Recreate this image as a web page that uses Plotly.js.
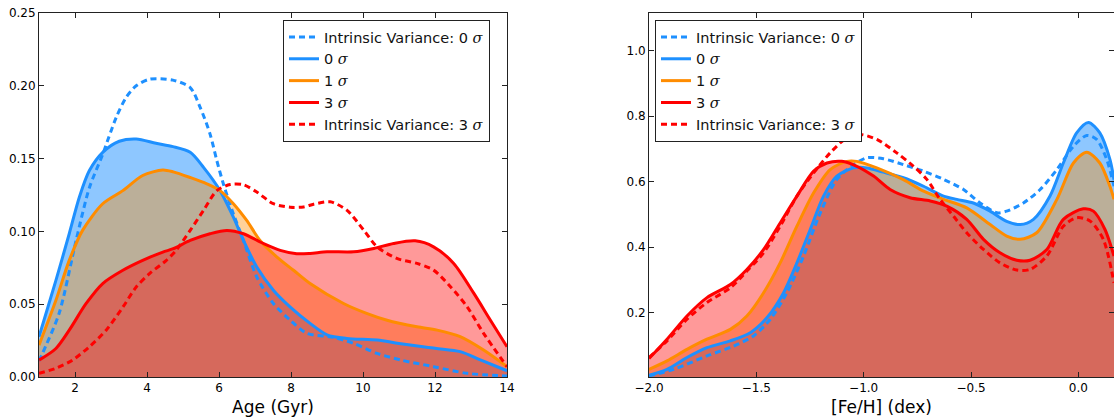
<!DOCTYPE html>
<html>
<head>
<meta charset="utf-8">
<script src="https://cdn.plot.ly/plotly-3.0.1.min.js"></script>
<style>html,body{margin:0;padding:0;background:#fff;}#chart{width:1114px;height:419px;}</style>
</head>
<body>
<div id="chart"></div>
<script>
// ---------- Left panel: Age (Gyr) ----------
const ageBlueX = [1, 1.47, 1.84, 2.12, 2.40, 2.77, 3.23, 3.70, 4.25, 4.72, 5.20, 5.57, 6.03, 6.40, 6.68, 7.05, 7.51, 7.98, 8.53, 9, 9.55, 10.4, 11, 12, 12.7, 13.26, 14];
const ageBlueY = [0.0276, 0.0664, 0.0984, 0.1235, 0.1418, 0.1543, 0.1619, 0.1635, 0.1605, 0.1582, 0.1543, 0.144, 0.128, 0.1098, 0.0938, 0.0755, 0.0596, 0.048, 0.0368, 0.029, 0.0265, 0.0254, 0.023, 0.0197, 0.0174, 0.0117, 0.0043];

const ageOrangeX = [1, 1.47, 1.84, 2.21, 2.77, 3.33, 3.88, 4.44, 4.73, 5.20, 5.66, 6.03, 6.40, 6.77, 7.14, 7.61, 8.07, 8.53, 9.46, 10.1, 10.67, 11.5, 12.06, 12.7, 13.35, 14];
const ageOrangeY = [0.0219, 0.0527, 0.0801, 0.1007, 0.119, 0.128, 0.1384, 0.1422, 0.1409, 0.137, 0.1327, 0.128, 0.119, 0.1075, 0.0938, 0.0824, 0.0733, 0.0642, 0.0505, 0.0437, 0.039, 0.0345, 0.0322, 0.0277, 0.0185, 0.0071];

const ageRedX = [1, 1.47, 1.84, 2.31, 2.77, 3.33, 3.88, 4.44, 4.73, 5.20, 5.75, 6.22, 6.68, 7.24, 7.70, 8.16, 8.53, 9, 9.74, 10.3, 10.85, 11.45, 11.96, 12.52, 13.08, 13.54, 14];
const ageRedY = [0.0116, 0.0196, 0.0322, 0.0505, 0.0642, 0.0733, 0.0801, 0.0858, 0.0881, 0.0938, 0.0984, 0.1007, 0.0984, 0.0916, 0.087, 0.0847, 0.0849, 0.086, 0.086, 0.0883, 0.0917, 0.0935, 0.0894, 0.078, 0.0574, 0.039, 0.0208];

const ageIV0X = [1, 1.10, 1.56, 2.03, 2.40, 2.77, 3.14, 3.42, 3.70, 4.07, 4.72, 5.20, 5.48, 5.75, 5.94, 6.12, 6.40, 6.68, 7.05, 7.51, 7.98, 8.44, 9.18, 9.74, 10.39, 11.04, 11.96, 12.9, 14];
const ageIV0Y = [0.011, 0.0164, 0.0438, 0.0938, 0.130, 0.153, 0.178, 0.192, 0.200, 0.2045, 0.2039, 0.1988, 0.185, 0.167, 0.1486, 0.1327, 0.112, 0.0938, 0.0687, 0.0505, 0.039, 0.030, 0.0272, 0.0231, 0.0162, 0.0117, 0.0071, 0.0025, 0.0007];

const ageIV3X = [1, 1.47, 1.93, 2.4, 2.86, 3.33, 3.70, 4.07, 4.53, 4.81, 5.20, 5.57, 5.94, 6.31, 6.68, 7.05, 7.51, 7.98, 8.35, 8.63, 9.09, 9.55, 10.02, 10.39, 10.94, 11.5, 11.96, 12.43, 12.89, 13.35, 14];
const ageIV3Y = [0.0025, 0.006, 0.0116, 0.0208, 0.032, 0.048, 0.0618, 0.071, 0.080, 0.087, 0.1007, 0.1144, 0.128, 0.1322, 0.132, 0.127, 0.119, 0.1166, 0.1168, 0.1187, 0.1203, 0.1146, 0.1009, 0.0894, 0.0814, 0.078, 0.0734, 0.062, 0.0483, 0.030, 0.0071];

// ---------- Right panel: [Fe/H] (dex) ----------
const fehBlueX = [-2.0, -1.916, -1.823, -1.73, -1.621, -1.528, -1.45, -1.373, -1.311, -1.249, -1.187, -1.125, -1.047, -0.985, -0.908, -0.815, -0.721, -0.628, -0.566, -0.489, -0.411, -0.334, -0.271, -0.209, -0.132, -0.07, -0.008, 0.047, 0.1, 0.147, 0.166];
const fehBlueY = [0.009, 0.027, 0.063, 0.093, 0.114, 0.139, 0.185, 0.261, 0.352, 0.454, 0.556, 0.617, 0.642, 0.642, 0.629, 0.612, 0.586, 0.556, 0.546, 0.535, 0.510, 0.479, 0.469, 0.485, 0.556, 0.657, 0.749, 0.781, 0.749, 0.668, 0.606];

const fehOrangeX = [-2.0, -1.916, -1.823, -1.73, -1.621, -1.544, -1.466, -1.389, -1.311, -1.233, -1.156, -1.078, -1.032, -0.939, -0.815, -0.721, -0.628, -0.52, -0.411, -0.334, -0.271, -0.194, -0.1, -0.023, 0.039, 0.1, 0.147, 0.166];
const fehOrangeY = [0.027, 0.053, 0.088, 0.119, 0.149, 0.190, 0.261, 0.352, 0.464, 0.566, 0.637, 0.662, 0.662, 0.642, 0.606, 0.571, 0.546, 0.520, 0.469, 0.434, 0.424, 0.444, 0.546, 0.657, 0.690, 0.657, 0.586, 0.546];

const fehRedX = [-2.0, -1.916, -1.823, -1.73, -1.621, -1.544, -1.466, -1.389, -1.311, -1.233, -1.171, -1.102, -1.032, -0.954, -0.877, -0.784, -0.69, -0.613, -0.52, -0.442, -0.365, -0.287, -0.225, -0.147, -0.07, 0.023, 0.07, 0.124, 0.166];
const fehRedY = [0.060, 0.119, 0.190, 0.246, 0.286, 0.332, 0.393, 0.474, 0.556, 0.632, 0.657, 0.662, 0.647, 0.617, 0.576, 0.551, 0.541, 0.525, 0.485, 0.424, 0.383, 0.360, 0.360, 0.393, 0.485, 0.517, 0.510, 0.454, 0.373];

const fehIV0X = [-2.0, -1.885, -1.73, -1.606, -1.513, -1.435, -1.358, -1.28, -1.202, -1.125, -1.047, -0.985, -0.908, -0.815, -0.721, -0.628, -0.535, -0.458, -0.38, -0.334, -0.256, -0.178, -0.1, -0.023, 0.039, 0.085, 0.132, 0.166];
const fehIV0Y = [0.007, 0.027, 0.068, 0.098, 0.129, 0.180, 0.261, 0.373, 0.505, 0.607, 0.652, 0.673, 0.670, 0.652, 0.632, 0.607, 0.576, 0.535, 0.505, 0.510, 0.535, 0.576, 0.637, 0.708, 0.741, 0.729, 0.668, 0.586];

const fehIV3X = [-2.0, -1.916, -1.823, -1.73, -1.621, -1.544, -1.466, -1.389, -1.311, -1.233, -1.156, -1.078, -1.016, -0.939, -0.846, -0.768, -0.706, -0.644, -0.582, -0.52, -0.442, -0.365, -0.287, -0.225, -0.147, -0.07, -0.008, 0.054, 0.116, 0.166];
const fehIV3Y = [0.063, 0.114, 0.180, 0.231, 0.276, 0.327, 0.383, 0.464, 0.556, 0.627, 0.688, 0.734, 0.744, 0.729, 0.688, 0.647, 0.607, 0.546, 0.495, 0.444, 0.393, 0.352, 0.330, 0.332, 0.373, 0.464, 0.490, 0.480, 0.424, 0.291];

const ageTicks = [2, 4, 6, 8, 10, 12, 14];
const ageYTicks = [0.00, 0.05, 0.10, 0.15, 0.20, 0.25];
const fehTicks = [-2.0, -1.5, -1.0, -0.5, 0.0];
const fehYTicks = [0.2, 0.4, 0.6, 0.8, 1.0];

const seriesNames = ['Intrinsic Variance: 0 ', '0 ', '1 ', '3 ', 'Intrinsic Variance: 3 '];
const sig = '<span style="font-family:\'DejaVu Serif\'"><i>σ</i></span>';

// ---------- styles ----------
const BLUE = '#1E90FF', ORANGE = '#FF8C00', RED = '#FF0000';
const BLUE_F = 'rgba(30,144,255,0.5)', ORANGE_F = 'rgba(255,140,0,0.4)', RED_F = 'rgba(255,0,0,0.4)';
const LW = 3;
const DASH = '6px,4px';
const SMOOTH = 0.8;

function fillTrace(x, y, color, xa, ya) {
  return {x: x, y: y, xaxis: xa, yaxis: ya, mode: 'lines', type: 'scatter',
    line: {width: 0, shape: 'spline', smoothing: SMOOTH}, fill: 'tozeroy', fillcolor: color,
    showlegend: false, hoverinfo: 'skip'};
}
function lineTrace(x, y, color, dash, name, xa, ya, legend) {
  return {x: x, y: y, xaxis: xa, yaxis: ya, mode: 'lines', type: 'scatter', name: name,
    line: {width: LW, color: color, dash: dash, shape: 'spline', smoothing: SMOOTH},
    legend: legend};
}

const traces = [
  fillTrace(ageBlueX, ageBlueY, BLUE_F, 'x', 'y'),
  fillTrace(ageOrangeX, ageOrangeY, ORANGE_F, 'x', 'y'),
  fillTrace(ageRedX, ageRedY, RED_F, 'x', 'y'),
  lineTrace(ageIV0X, ageIV0Y, BLUE, DASH, seriesNames[0] + sig, 'x', 'y', 'legend'),
  lineTrace(ageBlueX, ageBlueY, BLUE, 'solid', seriesNames[1] + sig, 'x', 'y', 'legend'),
  lineTrace(ageOrangeX, ageOrangeY, ORANGE, 'solid', seriesNames[2] + sig, 'x', 'y', 'legend'),
  lineTrace(ageRedX, ageRedY, RED, 'solid', seriesNames[3] + sig, 'x', 'y', 'legend'),
  lineTrace(ageIV3X, ageIV3Y, RED, DASH, seriesNames[4] + sig, 'x', 'y', 'legend'),

  fillTrace(fehBlueX, fehBlueY, BLUE_F, 'x2', 'y2'),
  fillTrace(fehOrangeX, fehOrangeY, ORANGE_F, 'x2', 'y2'),
  fillTrace(fehRedX, fehRedY, RED_F, 'x2', 'y2'),
  lineTrace(fehIV0X, fehIV0Y, BLUE, DASH, seriesNames[0] + sig, 'x2', 'y2', 'legend2'),
  lineTrace(fehBlueX, fehBlueY, BLUE, 'solid', seriesNames[1] + sig, 'x2', 'y2', 'legend2'),
  lineTrace(fehOrangeX, fehOrangeY, ORANGE, 'solid', seriesNames[2] + sig, 'x2', 'y2', 'legend2'),
  lineTrace(fehRedX, fehRedY, RED, 'solid', seriesNames[3] + sig, 'x2', 'y2', 'legend2'),
  lineTrace(fehIV3X, fehIV3Y, RED, DASH, seriesNames[4] + sig, 'x2', 'y2', 'legend2'),
];

const W = 1114, H = 419;
const axisBase = {
  showline: true, linecolor: '#222', linewidth: 1, mirror: 'ticks',
  ticks: 'inside', ticklen: 5, tickwidth: 1, tickcolor: '#222',
  showgrid: false, zeroline: false, automargin: false,
  tickfont: {family: 'DejaVu Sans', size: 12, color: '#000'}
};
const yDom = [42 / H, 406 / H];

const legendBase = {
  bgcolor: '#fff', bordercolor: '#222', borderwidth: 1,
  font: {family: 'DejaVu Sans', size: 14.5, color: '#111'},
  xanchor: 'left', yanchor: 'top', tracegroupgap: 0
};

const layout = {
  width: W, height: H,
  margin: {l: 0, r: 0, t: 0, b: 0},
  paper_bgcolor: '#fff', plot_bgcolor: '#fff',
  font: {family: 'DejaVu Sans'},
  xaxis: Object.assign({}, axisBase, {domain: [39 / W, 507 / W], range: [1, 14],
    tickvals: ageTicks, ticktext: ageTicks.map(String), anchor: 'y',
    title: {text: 'Age (Gyr)', font: {family: 'DejaVu Sans', size: 17, color: '#000'}, standoff: 6}}),
  yaxis: Object.assign({}, axisBase, {domain: yDom, range: [0, 0.25], anchor: 'x',
    tickvals: ageYTicks, ticktext: ageYTicks.map(v => v.toFixed(2))}),
  xaxis2: Object.assign({}, axisBase, {domain: [649 / W, 1], range: [-2.0, 0.166], anchor: 'y2',
    tickvals: fehTicks, ticktext: fehTicks.map(v => (v < 0 ? '\u2212' + Math.abs(v).toFixed(1) : v.toFixed(1))),
    title: {text: '[Fe/H] (dex)', font: {family: 'DejaVu Sans', size: 17, color: '#000'}, standoff: 6}}),
  yaxis2: Object.assign({}, axisBase, {domain: yDom, range: [0.0036, 1.115], anchor: 'x2',
    tickvals: fehYTicks, ticktext: fehYTicks.map(v => v.toFixed(1))}),
  legend: Object.assign({}, legendBase, {x: 283 / W, y: 1 - 20 / H}),
  legend2: Object.assign({}, legendBase, {x: 655 / W, y: 1 - 20 / H}),
  showlegend: true
};

Plotly.newPlot('chart', traces, layout, {displayModeBar: false, staticPlot: true});
</script>
</body>
</html>
